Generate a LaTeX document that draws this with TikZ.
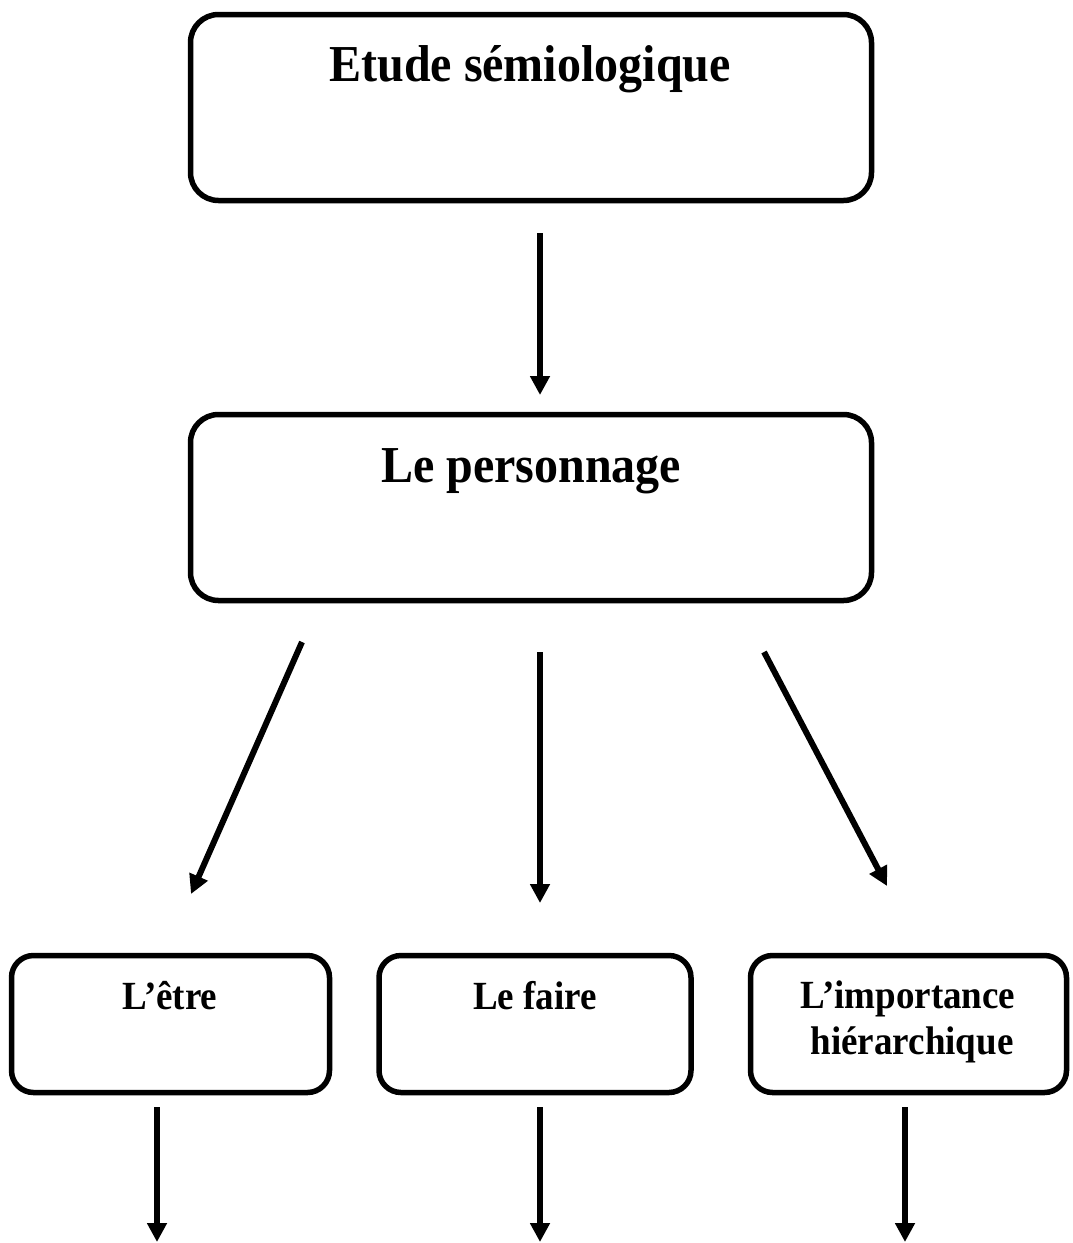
\documentclass[tikz,border=0pt]{standalone}
\usepackage{fontspec}
\setmainfont{Liberation Serif}
\usetikzlibrary{arrows.meta}
\tikzset{
  box/.style={draw=black, line width=5.5pt, rounded corners=28pt, fill=white, inner sep=0pt},
  smallbox/.style={draw=black, line width=5.5pt, rounded corners=22pt, fill=white, inner sep=0pt},
  bigtxt/.style={anchor=base, inner sep=0pt, font=\fontsize{48pt}{56pt}\selectfont\bfseries},
  smalltxt/.style={anchor=base, inner sep=0pt, font=\fontsize{37pt}{44pt}\selectfont\bfseries},
  arr/.style={line width=6pt, -{Triangle[width=19pt,length=19pt]}}
}
\newcommand{\tallish}[1]{\scalebox{1}[1.08]{#1}}
\begin{document}
\begin{tikzpicture}[x=1pt,y=-1pt]
\useasboundingbox (0,0) rectangle (1073,1243);
% boxes
\node[box, minimum width=681pt, minimum height=186pt] (top) at (531,107.5) {};
\node[box, minimum width=681pt, minimum height=186pt] (mid) at (531,507.5) {};
\node[smallbox, minimum width=318pt, minimum height=137pt] (etre) at (170.5,1024) {};
\node[smallbox, minimum width=312pt, minimum height=137pt] (faire) at (535,1024) {};
\node[smallbox, minimum width=316pt, minimum height=137pt] (imp) at (908.5,1024) {};
% texts
\node[bigtxt] (ttop) at (530,81) {\tallish{Etude sémiologique}};
\node[bigtxt] (tmid) at (531,482) {\tallish{Le personnage}};
\node[smalltxt] (tetre) at (170,1009) {\tallish{L’être}};
\node[smalltxt] (tfaire) at (535,1009) {\tallish{Le faire}};
\node[smalltxt] (timp1) at (908,1008) {\tallish{L’importance}};
\node[smalltxt] (timp2) at (912,1054) {\tallish{hiérarchique}};
% connector end points
\coordinate (a0s) at (540,233);
\coordinate (a0e) at (540,395);
\coordinate (l1s) at (302,642);
\coordinate (l1e) at (191,894);
\coordinate (m1s) at (540,652);
\coordinate (m1e) at (540,903);
\coordinate (r1s) at (764,652);
\coordinate (r1e) at (887,886);
\coordinate (b1s) at (157,1107);
\coordinate (b1e) at (157,1242);
\coordinate (b2s) at (540,1107);
\coordinate (b2e) at (540,1242);
\coordinate (b3s) at (905,1107);
\coordinate (b3e) at (905,1242);
% connectors
\draw[arr] (a0s) -- (a0e);
\draw[arr] (l1s) -- (l1e);
\draw[arr] (m1s) -- (m1e);
\draw[arr] (r1s) -- (r1e);
\draw[arr] (b1s) -- (b1e);
\draw[arr] (b2s) -- (b2e);
\draw[arr] (b3s) -- (b3e);
\end{tikzpicture}
\end{document}
